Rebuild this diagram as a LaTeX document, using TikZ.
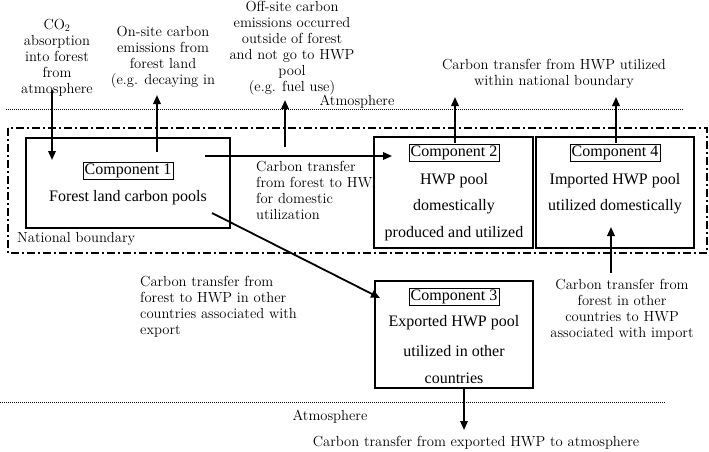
\documentclass[tikz,border=0pt]{standalone}
\usepackage{fontspec}
\usepackage{amsmath}
\newfontfamily\poolfont{Liberation Serif}
\usetikzlibrary{shapes, calc, arrows.meta, positioning}

\tikzset{
  pool/.style={draw, line width=1.2pt, fill=white, inner sep=0pt},
  tag/.style={draw, line width=0.6pt, inner sep=1.5pt, font=\poolfont\fontsize{16}{17}\selectfont},
  pooltxt/.style={font=\poolfont\fontsize{16}{17}\selectfont, inner sep=0pt},
  lbl/.style={align=center, inner sep=0pt, font=\fontsize{14.6}{16}\selectfont},
  arr/.style={line width=1.8pt, -{Triangle[length=9pt,width=7.5pt]}},
  atm/.style={line width=0.9pt, dash pattern=on 1pt off 1pt},
  natb/.style={line width=1.2pt, dash pattern=on 8pt off 3pt on 2pt off 3pt}
}

\begin{document}
\begin{tikzpicture}[x=1pt, y=-1pt]
\useasboundingbox (0,0) rectangle (709,451);

%% atmosphere lines
\draw[atm] (6,109) -- (683,109);
\draw[atm] (0,402) -- (665,402);
\node[lbl] (atmtop) at (357,102) {Atmosphere};
\node[lbl] (atmbot) at (330,417) {Atmosphere};

%% national boundary
\draw[natb] (8,128) rectangle (707,253);
\node[lbl, anchor=west] (nb) at (17,239) {National boundary};

%% flux labels
\node[lbl] (co2) at (57,58) {CO$_2$\\absorption\\into forest\\from\\atmosphere};
\node[lbl] (onsite) at (163,57) {On-site carbon\\emissions from\\forest land\\(e.g. decaying in};
\node[lbl] (offsite) at (292,48) {Off-site carbon\\emissions occurred\\outside of forest\\and not go to HWP\\pool\\(e.g. fuel use)};
\node[lbl] (hwpout) at (554,74) {Carbon transfer from HWP utilized\\within national boundary};
\node[lbl, align=left, anchor=west] (dom) at (256,190.5) {Carbon transfer\\from forest to HWP\\for domestic\\utilization};
\node[lbl, align=left, anchor=west] (expl) at (140,307) {Carbon transfer from\\forest to HWP in other\\countries associated with\\export};
\node[lbl] (impl) at (622,310) {Carbon transfer from\\forest in other\\countries to HWP\\associated with import};
\node[lbl] (expout) at (476,443) {Carbon transfer from exported HWP to atmosphere};

%% pools
\node[pool, minimum width=204, minimum height=90] (c1) at (128,183) {};
\node[pool, minimum width=159, minimum height=111] (c2) at (453.5,192.5) {};
\node[pool, minimum width=158, minimum height=111] (c4) at (615,192.5) {};
\node[pool, minimum width=158, minimum height=107] (c3) at (454,334.5) {};

\node[tag] (t1) at (128,171) {Component 1};
\node[pooltxt] at (128,198) {Forest land carbon pools};

\node[tag] (t2) at (454,153) {Component 2};
\node[pooltxt] at (454,181) {HWP pool};
\node[pooltxt] at (454,207) {domestically};
\node[pooltxt] at (454,234) {produced and utilized};

\node[tag] (t4) at (615,153) {Component 4};
\node[pooltxt] at (615,181) {Imported HWP pool};
\node[pooltxt] at (615,207) {utilized domestically};

\node[tag] (t3) at (454,297) {Component 3};
\node[pooltxt] at (454,323) {Exported HWP pool};
\node[pooltxt] at (454,351) {utilized in other};
\node[pooltxt] at (454,378) {countries};

%% arrow ends
\coordinate (a1) at (52,90);   \coordinate (b1) at (52,160);
\coordinate (a2) at (157,152); \coordinate (b2) at (157,95);
\coordinate (a3) at (285,147); \coordinate (b3) at (285,100);
\coordinate (a4) at (455,143); \coordinate (b4) at (455,97);
\coordinate (a5) at (616,143); \coordinate (b5) at (616,97);
\coordinate (a6) at (205,156); \coordinate (b6) at (392,156);
\coordinate (a7) at (212,213); \coordinate (b7) at (380,298);
\coordinate (a8) at (611,273); \coordinate (b8) at (611,227);
\coordinate (a9) at (464,388); \coordinate (b9) at (464,430);

\foreach \i in {1,...,9}
  \draw[arr] (a\i) -- (b\i);

\end{tikzpicture}
\end{document}
